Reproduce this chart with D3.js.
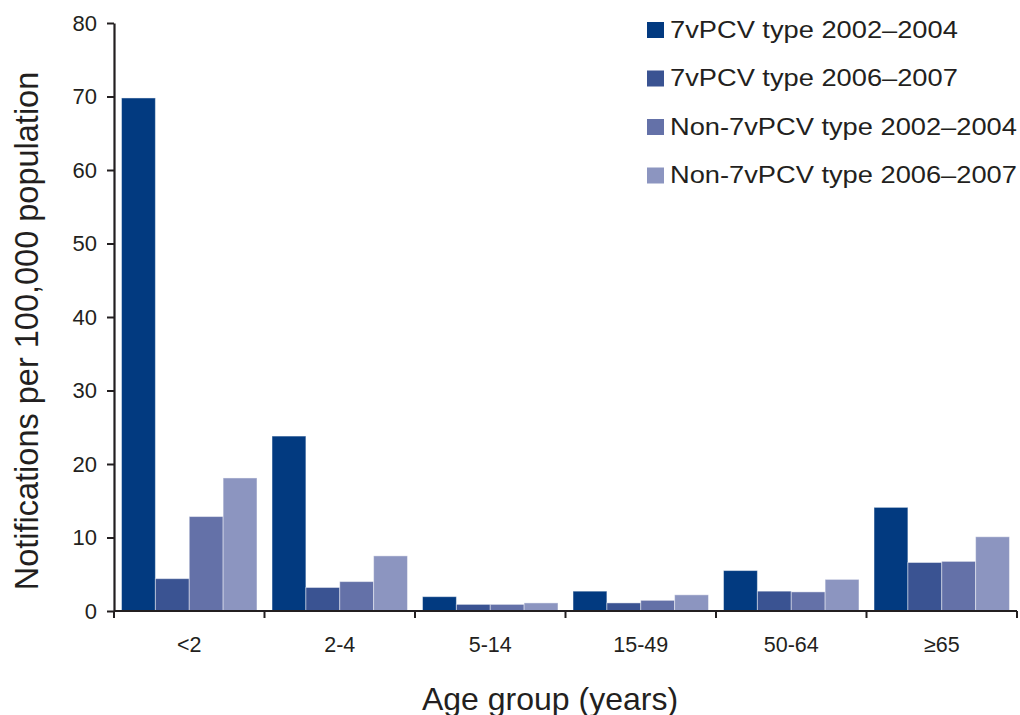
<!DOCTYPE html>
<html>
<head>
<meta charset="utf-8">
<script src="https://cdn.jsdelivr.net/npm/d3@7"></script>
<style>
  html, body { margin: 0; padding: 0; background: #fff; }
  svg { display: block; font-family: "Liberation Sans", Arial, Helvetica, sans-serif; }
</style>
</head>
<body>
<svg id="chart" width="1020" height="715"></svg>
<script>
// ---- data ----
const categories = ["<2", "2-4", "5-14", "15-49", "50-64", "\u226565"];
const seriesNames = [
  "7vPCV type 2002\u20132004",
  "7vPCV type 2006\u20132007",
  "Non-7vPCV type 2002\u20132004",
  "Non-7vPCV type 2006\u20132007"
];
const pcv2002 = [69.8, 23.8, 1.95, 2.7, 5.5, 14.1];
const pcv2006 = [4.4, 3.2, 0.9, 1.1, 2.7, 6.6];
const non2002 = [12.85, 4.0, 0.9, 1.45, 2.6, 6.75];
const non2006 = [18.1, 7.5, 1.1, 2.2, 4.3, 10.1];
const yTicks = [0, 10, 20, 30, 40, 50, 60, 70, 80];
const colors = ["#023a80", "#3a5392", "#6471a8", "#8c95c0"];

const seriesValues = [pcv2002, pcv2006, non2002, non2006];

// ---- layout ----
const svg = d3.select("#chart");
const mLeft = 114, mRight = 1017, mTop = 23, mBottom = 611;
const ink = "#231f20";

const x0 = d3.scaleBand().domain(categories).range([mLeft, mRight]).paddingInner(0.1).paddingOuter(0.05);
const x1 = d3.scaleBand().domain(d3.range(seriesNames.length)).range([0, x0.bandwidth()]);
const y = d3.scaleLinear().domain([0, 80]).range([mBottom, mTop]);

// bars
const groups = svg.append("g").selectAll("g")
  .data(categories).join("g")
  .attr("transform", d => `translate(${x0(d)},0)`);

groups.selectAll("rect")
  .data((c, i) => seriesValues.map((s, k) => ({ k, v: s[i] })))
  .join("rect")
  .attr("x", d => x1(d.k))
  .attr("y", d => y(d.v))
  .attr("width", x1.bandwidth())
  .attr("height", d => mBottom - y(d.v))
  .attr("fill", d => colors[d.k])
  .attr("stroke", "rgba(255,255,255,0.45)")
  .attr("stroke-width", 1);

// y axis
const yAxis = svg.append("g")
  .attr("transform", `translate(${mLeft},0)`)
  .call(d3.axisLeft(y).tickValues(yTicks).tickSize(7).tickPadding(10).tickSizeOuter(0));
yAxis.select(".domain").attr("stroke", ink).attr("stroke-width", 2.2);
yAxis.selectAll(".tick line").attr("stroke", ink).attr("stroke-width", 2);
yAxis.selectAll(".tick text").attr("fill", ink).attr("font-size", 22)
  .attr("font-family", "Liberation Sans, Arial, sans-serif");

// x axis: line with ticks at band boundaries
const xAxisG = svg.append("g");
xAxisG.append("line")
  .attr("x1", mLeft).attr("x2", mRight)
  .attr("y1", mBottom).attr("y2", mBottom)
  .attr("stroke", ink).attr("stroke-width", 2.2);
const step = x0.step();
const boundaries = categories.map(c => x0(c) - step * x0.paddingInner() / 2).concat([mRight]);
boundaries[0] = mLeft;
xAxisG.selectAll("line.tk").data(boundaries).join("line")
  .attr("class", "tk")
  .attr("x1", d => d).attr("x2", d => d)
  .attr("y1", mBottom).attr("y2", mBottom + 7)
  .attr("stroke", ink).attr("stroke-width", 2);
xAxisG.selectAll("text").data(categories).join("text")
  .attr("x", d => x0(d) + x0.bandwidth() / 2)
  .attr("y", 652)
  .attr("text-anchor", "middle")
  .attr("font-size", 21.5)
  .attr("fill", ink)
  .text(d => d);

// axis titles
svg.append("text")
  .attr("x", 550).attr("y", 710)
  .attr("text-anchor", "middle")
  .attr("font-size", 32)
  .attr("fill", ink)
  .text("Age group (years)");

svg.append("text")
  .attr("transform", "translate(38,331) rotate(-90)")
  .attr("text-anchor", "middle")
  .attr("font-size", 32.5)
  .attr("fill", ink)
  .text("Notifications per 100,000 population");

// legend
const legend = svg.append("g");
const lg = legend.selectAll("g").data(seriesNames).join("g")
  .attr("transform", (d, i) => `translate(647,${22 + i * 48.5})`);
lg.append("rect")
  .attr("width", 17).attr("height", 16)
  .attr("fill", (d, i) => colors[i]);
lg.append("text")
  .attr("transform", "translate(23,15.5) scale(1.16,1)")
  .attr("font-size", 23.5)
  .attr("fill", ink)
  .text(d => d);
</script>
</body>
</html>
